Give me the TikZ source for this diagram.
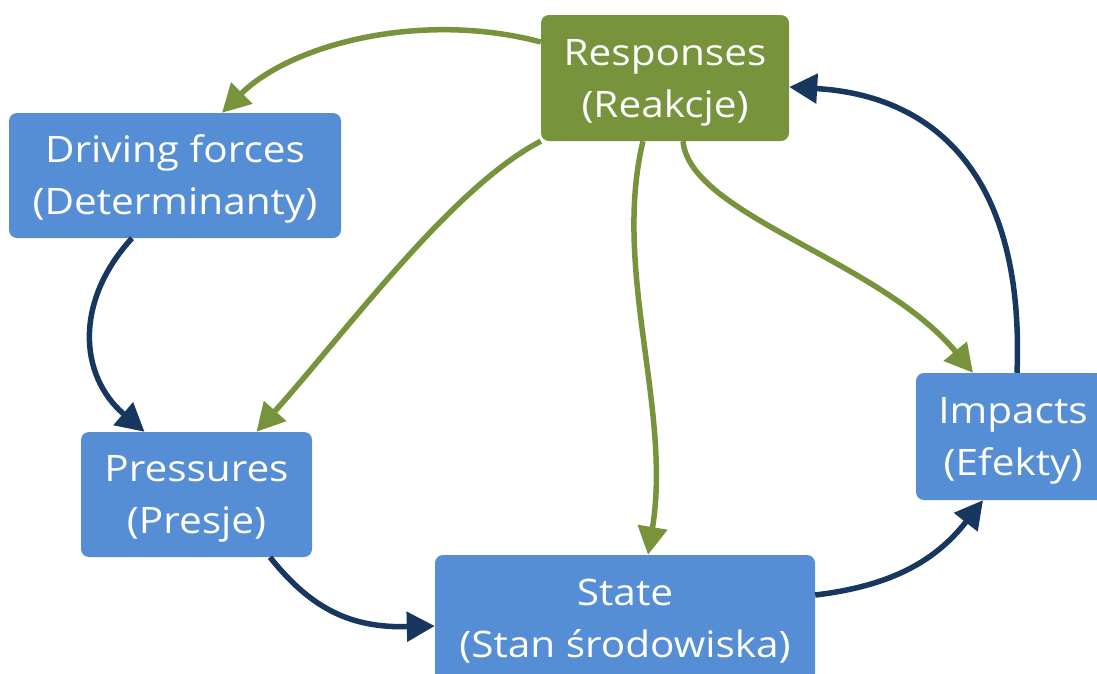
\documentclass[tikz,border=0pt]{standalone}
\usepackage{fontspec}
\setmainfont{Open Sans}[FakeStretch=1.11]
\usetikzlibrary{arrows.meta}

\definecolor{boxblue}{HTML}{558ED5}
\definecolor{boxgreen}{HTML}{77933C}
\definecolor{navy}{HTML}{17375E}

% two centred lines with fixed struts, so every label sits at the same height
\newcommand\boxlines[2]{\rule{0pt}{36pt}#1\\#2\rule[-10pt]{0pt}{10pt}}

\tikzset{
  box/.style={rectangle, rounded corners=8pt, fill=boxblue, text=white,
    align=center, inner sep=0pt,
    font=\fontsize{36.5}{52}\selectfont},
  greenbox/.style={box, fill=boxgreen},
  link/.style={line width=5.5pt, -{Triangle[length=28pt,width=29pt]}},
  greenlink/.style={link, draw=boxgreen},
  navylink/.style={link, draw=navy},
}

\begin{document}
\begin{tikzpicture}[x=1pt, y=-1pt]
  \useasboundingbox (0,0) rectangle (1097,673);

  % DPSIR boxes
  \node[greenbox, minimum width=248pt, minimum height=126pt] (resp) at (665,78)
    {\boxlines{Responses}{(Reakcje)}};
  \node[box, minimum width=332pt, minimum height=125pt] (drive) at (175,175.5)
    {\boxlines{Driving forces}{(Determinanty)}};
  \node[box, minimum width=231pt, minimum height=125pt] (pres) at (196.5,494.5)
    {\boxlines{Pressures}{(Presje)}};
  \node[box, minimum width=380pt, minimum height=126pt] (state) at (625,618)
    {\boxlines{State}{(Stan środowiska)}};
  \node[box, minimum width=194pt, minimum height=127pt] (imp) at (1013,436.5)
    {\boxlines{Impacts}{(Efekty)}};

  % causal chain
  \draw[navylink] ([xshift=-43pt]drive.south)
    .. controls (75,300) and (78,375) .. ([xshift=-52pt]pres.north);
  \draw[navylink] ([xshift=73.5pt]pres.south)
    .. controls (312,610) and (352,628) .. ([yshift=-8pt]state.west);
  \draw[navylink] ([yshift=23pt]state.east)
    .. controls (900,585) and (940,555) .. ([xshift=-30pt]imp.south);
  \draw[navylink] ([xshift=4pt]imp.north)
    .. controls (1025,170) and (930,95) .. ([yshift=-9pt]resp.east);

  % responses acting on every stage
  \draw[greenlink] ([yshift=36pt]resp.west)
    .. controls (420,10) and (290,45) .. ([xshift=47pt]drive.north);
  \draw[greenlink] (resp.south west)
    .. controls (452,187) and (345,333) .. ([xshift=60pt]pres.north);
  \draw[greenlink] ([xshift=-22pt]resp.south)
    .. controls (612,270) and (672,410) .. ([xshift=23pt]state.north);
  \draw[greenlink] ([xshift=18pt]resp.south)
    .. controls (690,215) and (880,260) .. ([xshift=-40pt]imp.north);
\end{tikzpicture}
\end{document}
